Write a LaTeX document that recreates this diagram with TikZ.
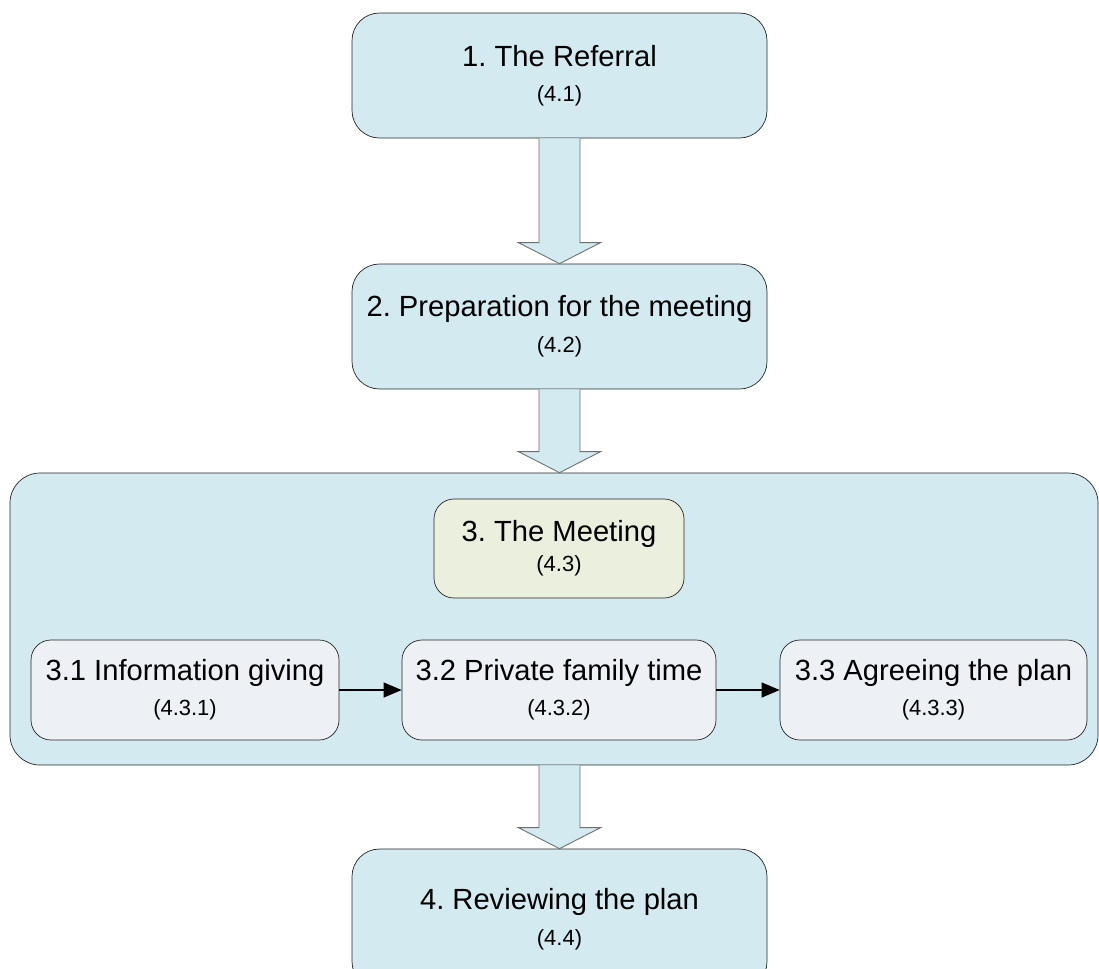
\documentclass[tikz,border=0pt]{standalone}
\usepackage{fontspec}
\setmainfont{Liberation Sans}
\usepackage{tikz}
\usetikzlibrary{calc,arrows.meta}
\frenchspacing

\definecolor{stepblue}{RGB}{210,234,240}
\definecolor{subgrey}{RGB}{237,241,246}
\definecolor{meetbeige}{RGB}{235,239,222}
\definecolor{arrowedge}{RGB}{110,110,110}

\newcommand{\mainfs}{\fontsize{16.6}{21}\selectfont}
\newcommand{\subfs}{\fontsize{12.5}{15}\selectfont}

% wide hollow arrow from one box down to the next, on the column of the main boxes
\newcommand{\blockarrow}[2]{%
\coordinate (foot) at (referral.south |- #1.south);
\coordinate (tip)  at (referral.south |- #2.north);
\draw[blockarr] ($(foot)+(-0.41,0)$) -- ($(tip)+(-0.41,0.42)$)
  -- ($(tip)+(-0.82,0.42)$) -- (tip) -- ($(tip)+(0.82,0.42)$)
  -- ($(tip)+(0.41,0.42)$) -- ($(foot)+(0.41,0)$);}

\tikzset{
  mainbox/.style={draw=black!85, fill=stepblue, rounded corners=0.55cm, align=center,
    minimum width=8.3cm, minimum height=2.5cm, inner sep=0pt},
  subbox/.style={draw=black!85, fill=subgrey, rounded corners=0.4cm, align=center,
    minimum height=2cm, inner sep=0pt},
  blockarr/.style={draw=arrowedge, fill=stepblue, line width=0.5pt},
  flow/.style={-{Triangle[length=0.36cm,width=0.3cm]}, line width=0.6pt}
}

\begin{document}
\begin{tikzpicture}
\useasboundingbox (0,0) rectangle (21.98,-19.36);

\node[draw=black!85, fill=stepblue, rounded corners=0.6cm,
      minimum width=21.76cm, minimum height=5.84cm] (meetarea) at (11.08,-12.38) {};

\node[mainbox] (referral) at (11.19,-1.51) {\mainfs 1. The Referral\\[8pt]\subfs (4.1)};
\node[mainbox] (prep)     at (11.19,-6.53) {\mainfs 2. Preparation for the meeting\\[7pt]\subfs (4.2)};
\node[mainbox, minimum height=2.8cm] (review) at (11.19,-18.38) {\mainfs 4. Reviewing the plan\\[7pt]\subfs (4.4)};

\node[subbox, fill=meetbeige, minimum width=5cm, minimum height=1.98cm] (meeting) at (11.18,-10.97)
  {\mainfs 3. The Meeting\\[3.5pt]\subfs (4.3)};

\node[subbox, minimum width=6.16cm] (info)  at (3.7,-13.8)   {\mainfs 3.1 Information giving\\[6.5pt]\subfs (4.3.1)};
\node[subbox, minimum width=6.28cm] (famtime) at (11.18,-13.8) {\mainfs 3.2 Private family time\\[6.5pt]\subfs (4.3.2)};
\node[subbox, minimum width=6.14cm] (agree) at (18.67,-13.8)  {\mainfs 3.3 Agreeing the plan\\[6.5pt]\subfs (4.3.3)};

\blockarrow{referral}{prep}
\blockarrow{prep}{meetarea}
\blockarrow{meetarea}{review}

\draw[flow] (info.east)    -- (famtime.west);
\draw[flow] (famtime.east) -- (agree.west);

\end{tikzpicture}
\end{document}
